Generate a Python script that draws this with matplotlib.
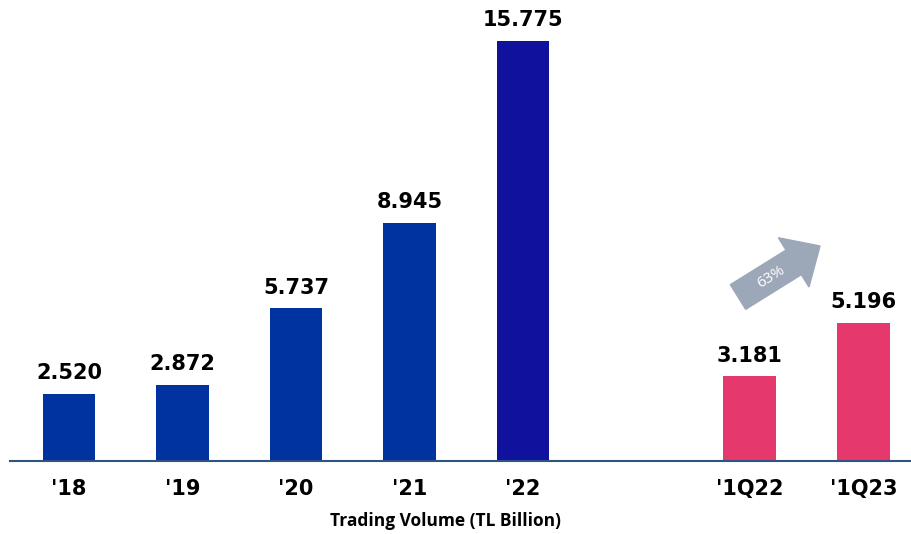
import matplotlib.pyplot as plt
from matplotlib.patches import FancyArrow
from matplotlib.transforms import IdentityTransform

# data
periods = ["'18", "'19", "'20", "'21", "'22", "'1Q22", "'1Q23"]
volumes = [2.520, 2.872, 5.737, 8.945, 15.775, 3.181, 5.196]
positions = [0, 1, 2, 3, 4, 6, 7]
bar_colors = ['#0033A0', '#0033A0', '#0033A0', '#0033A0', '#10119C', '#E5396E', '#E5396E']
growth_label = '63%'

W, H = 911, 534
fig = plt.figure(figsize=(W / 100, H / 100), dpi=100)
# axes spans from the axis line up to the top of the figure
ax = fig.add_axes([10 / W, (H - 461) / H, (W - 10) / W, 461 / H])

ax.bar(positions, volumes, width=0.465, color=bar_colors, zorder=2)
for x, v in zip(positions, volumes):
    ax.text(x, v + 0.4, f'{v:.3f}', ha='center', va='bottom',
            fontsize=15, fontweight='bold', color='black')

ax.set_xlim(-0.52, 7.42)
ax.set_ylim(0, 15.775 * 461 / 420)
ax.set_xticks(positions)
ax.set_xticklabels(periods, fontsize=15, fontweight='bold')
ax.tick_params(axis='x', length=0, pad=13)
ax.set_yticks([])
for s in ['top', 'right', 'left']:
    ax.spines[s].set_visible(False)
ax.spines['bottom'].set_color('#2E5480')
ax.spines['bottom'].set_linewidth(1.5)

fig.text(445 / W, 1 - 521 / H, 'Trading Volume (TL Billion)', ha='center', va='center',
         fontsize=12.5, fontweight='bold', family=['Open Sans', 'DejaVu Sans'])

# growth arrow, in pixel coordinates (y measured from bottom)
x0, y0 = 738, H - 297
dx, dy = 82, 51
arrow = FancyArrow(x0, y0, dx, dy, width=29, head_width=58, head_length=31,
                   length_includes_head=True, color='#9CA8B8', transform=IdentityTransform(),
                   zorder=3)
fig.patches.append(arrow)
fig.text(771 / W, 1 - 277 / H, growth_label, ha='center', va='center', rotation=32,
         fontsize=11, color='white', family=['Open Sans', 'DejaVu Sans'])

fig.savefig('out.png', dpi=100)
